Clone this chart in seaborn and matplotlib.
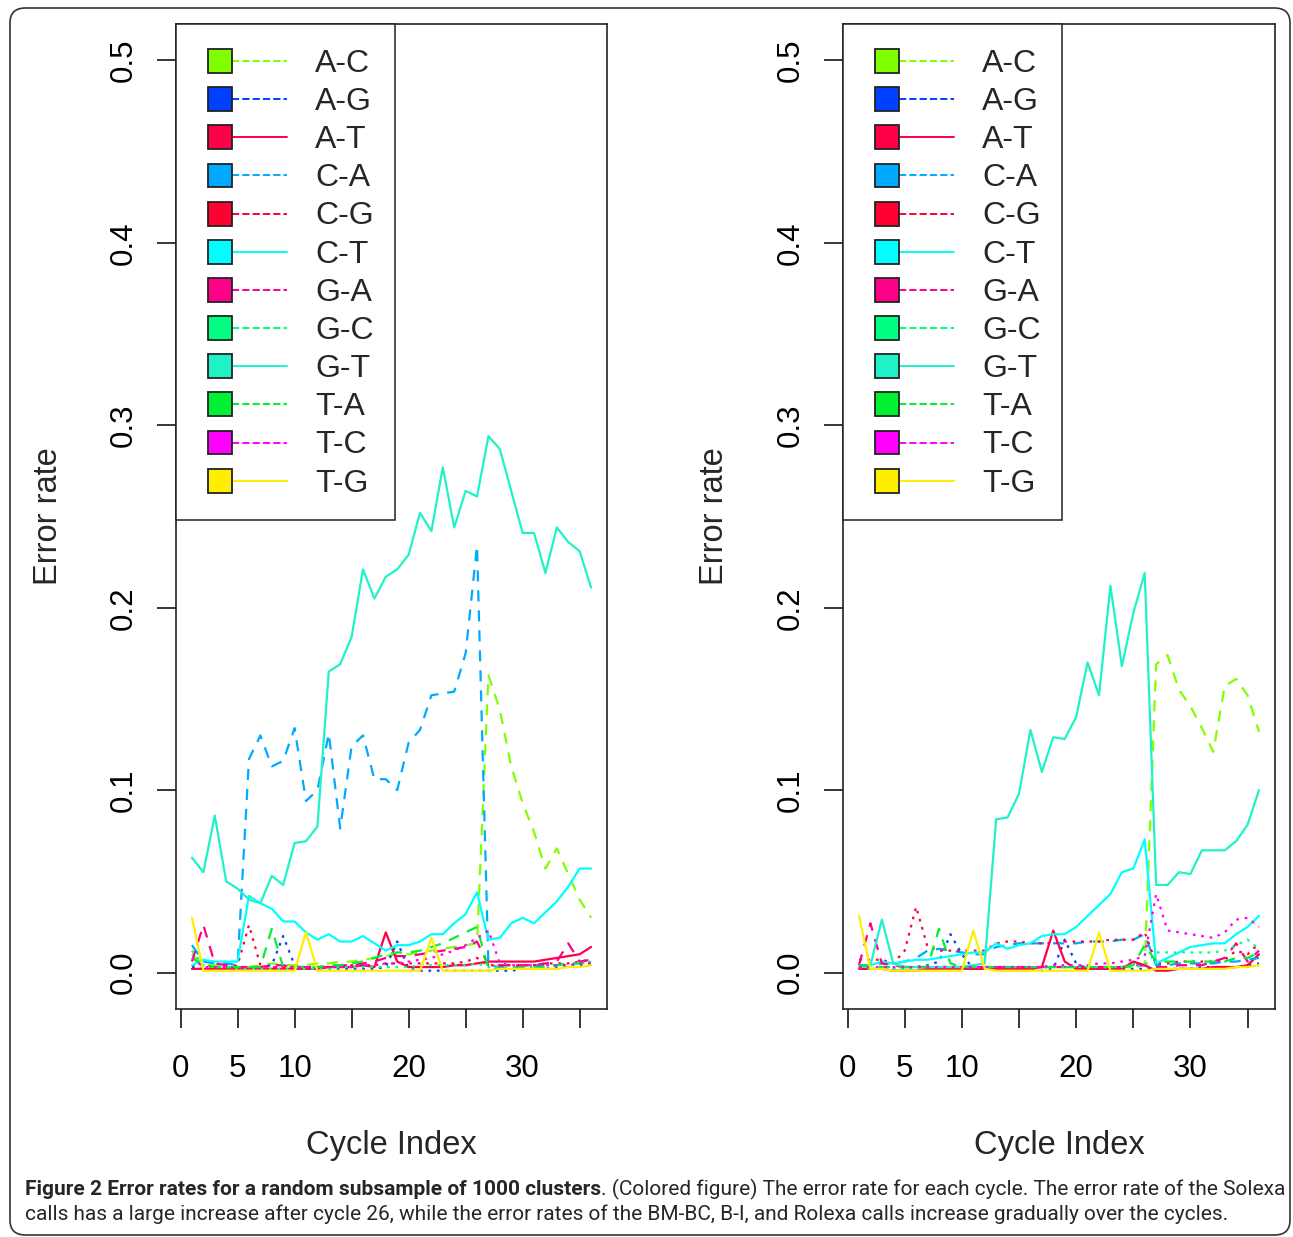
import pandas as pd
import seaborn as sns
import matplotlib.pyplot as plt
from matplotlib.lines import Line2D
from matplotlib.patches import Rectangle, FancyBboxPatch
from matplotlib.legend_handler import HandlerBase

# substitution types, colours and line styles (R lty 2, 3, 1 repeated)
types = ['A-C', 'A-G', 'A-T', 'C-A', 'C-G', 'C-T', 'G-A', 'G-C', 'G-T', 'T-A', 'T-C', 'T-G']
colors = ['#80FF00', '#0040FF', '#FF0048', '#00AAFF', '#FF0030', '#00FFFF',
          '#FF0088', '#00FF80', '#20F2C8', '#00F033', '#FF00FF', '#FFEE00']
dash_kind = ['dashed', 'dotted', 'solid'] * 4

cycles = list(range(1, 37))
x_ticks = [0, 5, 10, 15, 20, 25, 30, 35]
x_tick_labels = ['0', '5', '10', '', '20', '', '30', '']
y_ticks = [0.0, 0.1, 0.2, 0.3, 0.4, 0.5]
y_tick_labels = ['0.0', '0.1', '0.2', '0.3', '0.4', '0.5']

# ---- left panel ----
left_ac = [0.010, 0.004, 0.004, 0.003, 0.003, 0.003, 0.004, 0.005, 0.004, 0.004, 0.004, 0.005,
           0.005, 0.006, 0.006, 0.007, 0.008, 0.009, 0.010, 0.010, 0.011, 0.012, 0.013, 0.014,
           0.015, 0.016, 0.163, 0.144, 0.113, 0.093, 0.077, 0.057, 0.068, 0.054, 0.040, 0.030]
left_ag = [0.003, 0.002, 0.002, 0.002, 0.002, 0.003, 0.003, 0.004, 0.020, 0.004, 0.002, 0.002,
           0.002, 0.002, 0.002, 0.002, 0.002, 0.003, 0.017, 0.002, 0.001, 0.001, 0.001, 0.001,
           0.001, 0.001, 0.001, 0.001, 0.001, 0.002, 0.002, 0.002, 0.003, 0.003, 0.004, 0.005]
left_at = [0.002, 0.002, 0.002, 0.002, 0.002, 0.002, 0.002, 0.002, 0.002, 0.002, 0.002, 0.002,
           0.003, 0.003, 0.003, 0.004, 0.003, 0.022, 0.006, 0.003, 0.003, 0.003, 0.003, 0.004,
           0.004, 0.005, 0.006, 0.006, 0.006, 0.006, 0.006, 0.007, 0.008, 0.009, 0.010, 0.014]
left_ca = [0.015, 0.006, 0.005, 0.005, 0.004, 0.117, 0.130, 0.113, 0.116, 0.134, 0.094, 0.100,
           0.131, 0.079, 0.124, 0.130, 0.106, 0.106, 0.100, 0.126, 0.133, 0.152, 0.153, 0.154,
           0.175, 0.234, 0.004, 0.003, 0.003, 0.003, 0.004, 0.004, 0.004, 0.005, 0.005, 0.006]
left_cg = [0.004, 0.004, 0.003, 0.003, 0.004, 0.026, 0.004, 0.003, 0.003, 0.003, 0.003, 0.003,
           0.003, 0.003, 0.004, 0.004, 0.004, 0.005, 0.005, 0.005, 0.005, 0.005, 0.005, 0.005,
           0.006, 0.008, 0.004, 0.004, 0.004, 0.004, 0.004, 0.005, 0.005, 0.005, 0.006, 0.007]
left_ct = [0.004, 0.007, 0.006, 0.006, 0.006, 0.042, 0.038, 0.035, 0.028, 0.028, 0.022, 0.018,
           0.021, 0.017, 0.017, 0.020, 0.016, 0.012, 0.015, 0.015, 0.017, 0.021, 0.021, 0.027,
           0.032, 0.044, 0.018, 0.019, 0.027, 0.030, 0.027, 0.033, 0.039, 0.047, 0.057, 0.057]
left_ga = [0.006, 0.026, 0.005, 0.004, 0.003, 0.003, 0.003, 0.004, 0.004, 0.003, 0.003, 0.003,
           0.003, 0.004, 0.004, 0.005, 0.006, 0.008, 0.009, 0.009, 0.010, 0.011, 0.012, 0.013,
           0.014, 0.017, 0.004, 0.004, 0.004, 0.004, 0.004, 0.005, 0.006, 0.016, 0.006, 0.007]
left_gc = [0.012, 0.004, 0.003, 0.003, 0.002, 0.002, 0.002, 0.002, 0.002, 0.002, 0.002, 0.002,
           0.002, 0.003, 0.003, 0.003, 0.003, 0.003, 0.003, 0.003, 0.004, 0.004, 0.004, 0.004,
           0.004, 0.005, 0.003, 0.003, 0.003, 0.003, 0.003, 0.004, 0.004, 0.004, 0.005, 0.006]
left_gt = [0.063, 0.055, 0.086, 0.050, 0.046, 0.040, 0.038, 0.053, 0.048, 0.071, 0.072, 0.080,
           0.165, 0.169, 0.184, 0.221, 0.205, 0.217, 0.221, 0.229, 0.252, 0.242, 0.277, 0.244,
           0.264, 0.261, 0.294, 0.287, 0.264, 0.241, 0.241, 0.219, 0.244, 0.236, 0.231, 0.211]
left_ta = [0.008, 0.004, 0.003, 0.003, 0.003, 0.003, 0.003, 0.024, 0.003, 0.003, 0.003, 0.003,
           0.004, 0.004, 0.005, 0.006, 0.008, 0.010, 0.011, 0.011, 0.012, 0.014, 0.016, 0.019,
           0.022, 0.025, 0.002, 0.002, 0.002, 0.003, 0.003, 0.003, 0.004, 0.005, 0.005, 0.006]
left_tc = [0.008, 0.003, 0.003, 0.003, 0.002, 0.002, 0.002, 0.003, 0.003, 0.003, 0.003, 0.003,
           0.003, 0.003, 0.003, 0.004, 0.004, 0.005, 0.005, 0.006, 0.007, 0.008, 0.010, 0.012,
           0.015, 0.019, 0.023, 0.005, 0.004, 0.004, 0.004, 0.004, 0.004, 0.004, 0.005, 0.005]
left_tg = [0.030, 0.001, 0.001, 0.001, 0.001, 0.001, 0.001, 0.001, 0.001, 0.001, 0.022, 0.001,
           0.001, 0.001, 0.001, 0.001, 0.001, 0.001, 0.001, 0.001, 0.001, 0.019, 0.001, 0.001,
           0.001, 0.001, 0.001, 0.002, 0.002, 0.002, 0.002, 0.002, 0.002, 0.003, 0.003, 0.004]

# ---- right panel ----
right_ac = [0.004, 0.003, 0.003, 0.003, 0.003, 0.003, 0.003, 0.003, 0.003, 0.003, 0.003, 0.003,
            0.003, 0.003, 0.003, 0.003, 0.003, 0.003, 0.003, 0.003, 0.003, 0.003, 0.003, 0.003,
            0.003, 0.004, 0.169, 0.174, 0.155, 0.146, 0.134, 0.121, 0.157, 0.161, 0.152, 0.132]
right_ag = [0.003, 0.002, 0.002, 0.002, 0.002, 0.003, 0.004, 0.006, 0.021, 0.010, 0.002, 0.002,
            0.002, 0.002, 0.002, 0.002, 0.001, 0.002, 0.018, 0.005, 0.002, 0.002, 0.002, 0.002,
            0.002, 0.002, 0.002, 0.002, 0.002, 0.002, 0.003, 0.003, 0.003, 0.003, 0.004, 0.005]
right_at = [0.002, 0.002, 0.002, 0.001, 0.001, 0.001, 0.002, 0.002, 0.002, 0.002, 0.002, 0.002,
            0.002, 0.002, 0.002, 0.002, 0.003, 0.023, 0.006, 0.002, 0.002, 0.002, 0.002, 0.002,
            0.006, 0.004, 0.001, 0.001, 0.002, 0.002, 0.002, 0.003, 0.003, 0.003, 0.004, 0.010]
right_ca = [0.004, 0.004, 0.005, 0.005, 0.006, 0.008, 0.012, 0.013, 0.012, 0.011, 0.010, 0.010,
            0.014, 0.015, 0.016, 0.016, 0.016, 0.016, 0.016, 0.016, 0.017, 0.017, 0.017, 0.018,
            0.018, 0.021, 0.004, 0.004, 0.005, 0.005, 0.005, 0.005, 0.006, 0.006, 0.007, 0.008]
right_cg = [0.007, 0.007, 0.007, 0.005, 0.012, 0.036, 0.014, 0.012, 0.012, 0.012, 0.012, 0.012,
            0.016, 0.017, 0.017, 0.016, 0.016, 0.016, 0.017, 0.017, 0.017, 0.017, 0.018, 0.018,
            0.018, 0.022, 0.005, 0.005, 0.006, 0.006, 0.006, 0.006, 0.007, 0.012, 0.010, 0.016]
right_ct = [0.003, 0.004, 0.006, 0.005, 0.006, 0.007, 0.007, 0.008, 0.009, 0.010, 0.011, 0.011,
            0.016, 0.013, 0.015, 0.016, 0.020, 0.021, 0.021, 0.025, 0.031, 0.037, 0.043, 0.055,
            0.057, 0.073, 0.005, 0.008, 0.011, 0.014, 0.015, 0.016, 0.016, 0.021, 0.025, 0.031]
right_ga = [0.004, 0.027, 0.005, 0.004, 0.003, 0.003, 0.003, 0.003, 0.003, 0.003, 0.003, 0.003,
            0.003, 0.003, 0.003, 0.003, 0.003, 0.003, 0.003, 0.003, 0.003, 0.003, 0.003, 0.003,
            0.004, 0.004, 0.003, 0.003, 0.004, 0.004, 0.004, 0.006, 0.008, 0.016, 0.006, 0.012]
right_gc = [0.003, 0.002, 0.002, 0.002, 0.002, 0.002, 0.003, 0.003, 0.003, 0.003, 0.003, 0.003,
            0.003, 0.003, 0.003, 0.003, 0.003, 0.003, 0.003, 0.003, 0.003, 0.003, 0.003, 0.003,
            0.003, 0.004, 0.011, 0.011, 0.011, 0.011, 0.011, 0.011, 0.012, 0.015, 0.018, 0.013]
right_gt = [0.003, 0.004, 0.029, 0.005, 0.003, 0.003, 0.003, 0.003, 0.003, 0.003, 0.004, 0.005,
            0.084, 0.085, 0.098, 0.133, 0.110, 0.129, 0.128, 0.140, 0.170, 0.152, 0.212, 0.168,
            0.197, 0.219, 0.048, 0.048, 0.055, 0.054, 0.067, 0.067, 0.067, 0.072, 0.081, 0.100]
right_ta = [0.004, 0.003, 0.003, 0.003, 0.003, 0.003, 0.003, 0.024, 0.005, 0.003, 0.003, 0.003,
            0.003, 0.003, 0.003, 0.003, 0.003, 0.003, 0.003, 0.003, 0.003, 0.003, 0.003, 0.003,
            0.004, 0.015, 0.006, 0.006, 0.006, 0.006, 0.006, 0.006, 0.006, 0.008, 0.008, 0.011]
right_tc = [0.003, 0.003, 0.003, 0.003, 0.003, 0.003, 0.003, 0.003, 0.003, 0.003, 0.003, 0.003,
            0.003, 0.003, 0.003, 0.003, 0.003, 0.004, 0.004, 0.004, 0.004, 0.005, 0.005, 0.006,
            0.007, 0.009, 0.043, 0.023, 0.022, 0.021, 0.020, 0.019, 0.022, 0.029, 0.030, 0.025]
right_tg = [0.031, 0.002, 0.002, 0.001, 0.001, 0.001, 0.001, 0.001, 0.001, 0.001, 0.023, 0.002,
            0.001, 0.001, 0.001, 0.001, 0.001, 0.001, 0.001, 0.001, 0.001, 0.022, 0.001, 0.001,
            0.001, 0.001, 0.002, 0.002, 0.002, 0.002, 0.002, 0.002, 0.002, 0.003, 0.003, 0.004]

left_series = [left_ac, left_ag, left_at, left_ca, left_cg, left_ct,
               left_ga, left_gc, left_gt, left_ta, left_tc, left_tg]
right_series = [right_ac, right_ag, right_at, right_ca, right_cg, right_ct,
                right_ga, right_gc, right_gt, right_ta, right_tc, right_tg]

caption_bold = 'Figure 2 Error rates for a random subsample of 1000 clusters'
caption_rest = '. (Colored figure) The error rate for each cycle. The error rate of the Solexa'
caption_line2 = ('calls has a large increase after cycle 26, while the error rates of the BM-BC, B-I, '
                 'and Rolexa calls increase gradually over the cycles.')

sns.set_style('ticks')
plt.rcParams['font.family'] = ['Liberation Sans', 'DejaVu Sans']

FS_TICK = 22.5
FS_LAB = 23.5
FS_LEG = 23
dash_patterns = {'dashed': (5, 4), 'dotted': (1.2, 2.6), 'solid': ''}
legend_patterns = {'dashed': (0, (5, 5.5)), 'dotted': (0, (1.2, 2.8)), 'solid': '-'}
palette = dict(zip(types, colors))
dash_map = {t: dash_patterns[k] for t, k in zip(types, dash_kind)}


def to_frame(series):
    rows = []
    for t, vals in zip(types, series):
        for c, v in zip(cycles, vals):
            rows.append((t, c, v))
    return pd.DataFrame(rows, columns=['type', 'cycle', 'rate'])


class BoxLineHandler(HandlerBase):
    """R style legend key: filled square followed by the line."""
    def create_artists(self, legend, orig_handle, xdescent, ydescent, width, height, fontsize, trans):
        side = 0.75 * fontsize
        x0 = -xdescent + 0.31 * fontsize
        y0 = -ydescent + (height - side) / 2
        ymid = y0 + side / 2
        line = Line2D([x0 + side, -xdescent + width], [ymid, ymid], color=orig_handle.get_color(),
                      linestyle=orig_handle.get_linestyle(), linewidth=orig_handle.get_linewidth(),
                      transform=trans)
        rect = Rectangle((x0, y0), side, side, facecolor=orig_handle.get_color(),
                         edgecolor='#222222', linewidth=1.3, transform=trans)
        return [line, rect]


W, H = 1293, 1237
fig = plt.figure(figsize=(W / 100, H / 100), dpi=100)
ax_left = fig.add_axes([176 / W, 1 - 1009 / H, 431 / W, 985 / H])
ax_right = fig.add_axes([843 / W, 1 - 1009 / H, 432 / W, 985 / H])

for ax, series in [(ax_left, left_series), (ax_right, right_series)]:
    df = to_frame(series)
    sns.lineplot(data=df, x='cycle', y='rate', hue='type', style='type', palette=palette,
                 dashes=dash_map, linewidth=1.6, legend=False, errorbar=None, ax=ax)
    ax.set_xlim(-0.4, 37.4)
    ax.set_ylim(-0.02, 0.52)
    ax.set_xticks(x_ticks)
    ax.set_xticklabels(x_tick_labels)
    ax.set_yticks(y_ticks)
    ax.set_yticklabels(y_tick_labels, rotation=90, va='center')
    ax.tick_params(direction='out', length=13.7, width=1.1, labelsize=FS_TICK, colors='black')
    ax.tick_params(axis='x', pad=19)
    ax.tick_params(axis='y', pad=13)
    for sp in ax.spines.values():
        sp.set_visible(True)
        sp.set_linewidth(1.2)
        sp.set_color('#222222')
    ax.set_xlabel('Cycle Index', fontsize=FS_LAB)
    ax.set_ylabel('Error rate', fontsize=FS_LAB)
    ax.xaxis.set_label_coords(0.5, -0.123)
    ax.yaxis.set_label_coords(-0.261, 0.5)

    handles = [Line2D([], [], color=c, linestyle=legend_patterns[k], linewidth=1.4)
               for c, k in zip(colors, dash_kind)]
    leg = ax.legend(handles, types, handler_map={Line2D: BoxLineHandler()}, loc='upper left',
                    bbox_to_anchor=(0, 1), borderaxespad=0, fontsize=FS_LEG, frameon=True,
                    fancybox=False, edgecolor='#222222', framealpha=1, borderpad=0.68,
                    labelspacing=0.155, handlelength=2.8, handleheight=1.1, handletextpad=0.875)
    leg.get_frame().set_linewidth(1.1)

# rounded frame around the whole figure
fig.patches.append(FancyBboxPatch((10 / W, 1 - 1235 / H), 1280 / W, 1227 / H,
                                  boxstyle='round,pad=0,rounding_size=0.012',
                                  transform=fig.transFigure, facecolor='none',
                                  edgecolor='#333333', linewidth=1.2))

# caption, first line stretched to the text width
cap_font = ['Liberation Sans Narrow', 'Roboto', 'DejaVu Sans']
renderer = fig.canvas.get_renderer()


def place_line(parts, y, size):
    texts = []
    x = 25 / W
    for txt, weight in parts:
        t = fig.text(x, y, txt, fontsize=size, fontweight=weight, family=cap_font, va='baseline')
        x = t.get_window_extent(renderer).x1 / W
        texts.append(t)
    return texts, x


line1 = [(caption_bold, 'bold'), (caption_rest, 'normal')]
texts, end = place_line(line1, 1 - 1195 / H, 12.7)
size = 12.7 * (1278 / W - 25 / W) / (end - 25 / W)
for t in texts:
    t.remove()
place_line(line1, 1 - 1195 / H, size)
place_line([(caption_line2, 'normal')], 1 - 1220 / H, size)

fig.savefig('out.png', dpi=100)
